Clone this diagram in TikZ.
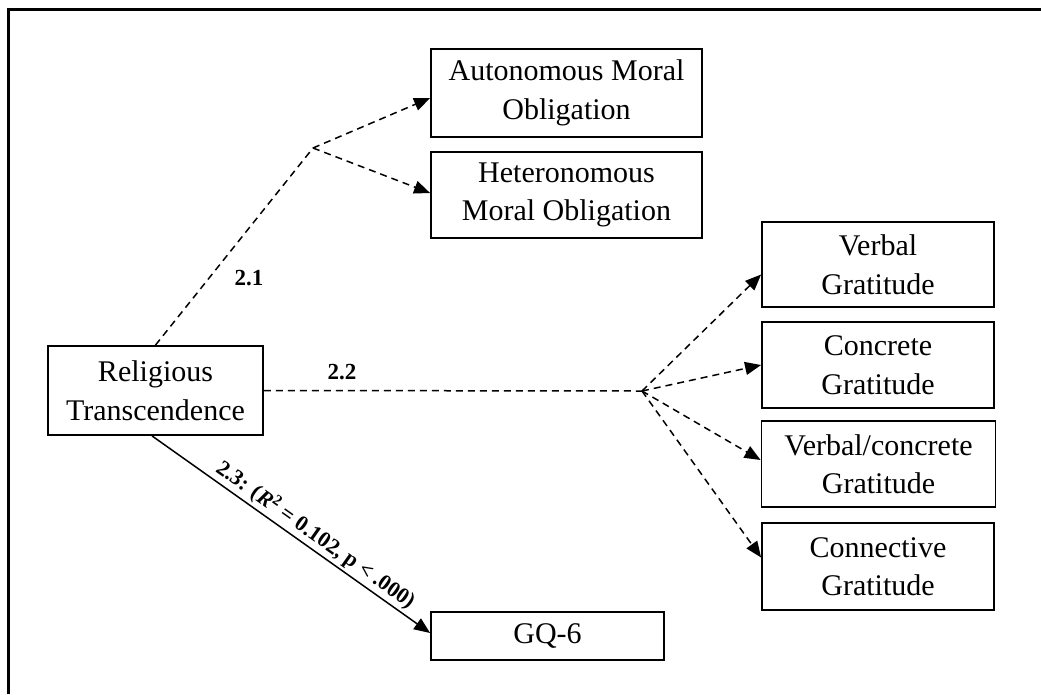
\documentclass[tikz,border=0pt]{standalone}
\usepackage{fontspec}
\setmainfont{Liberation Serif}
\usetikzlibrary{arrows.meta,calc}
\begin{document}
\begin{tikzpicture}[x=1pt,y=-1pt,
  box/.style={draw,line width=1.8pt,align=center,inner sep=0pt,
    font=\fontsize{30}{38.5}\selectfont},
  lab/.style={font=\bfseries\fontsize{23}{26}\selectfont,inner sep=2pt},
  dpath/.style={line width=1.5pt,dash pattern=on 7pt off 5pt,
    -{Triangle[length=16pt,width=13pt]}},
  dline/.style={line width=1.5pt,dash pattern=on 7pt off 5pt},
  spath/.style={line width=1.5pt,-{Triangle[length=16pt,width=13pt]}}]
\useasboundingbox (0,0) rectangle (1041,694);
\fill[white] (0,0) rectangle (1041,694);
% frame (top and left edges visible)
\draw[line width=3pt] (8,694) -- (8,9) -- (1041,9);
% boxes
\node[box,minimum width=215pt,minimum height=89pt] (rt) at (155.5,390.5) {Religious\\Transcendence};
\node[box,minimum width=271pt,minimum height=88pt] (auto) at (566.5,93) {Autonomous Moral\\Obligation};
\node[box,minimum width=271pt,minimum height=86pt] (het) at (566.5,195) {Heteronomous\\Moral Obligation};
\node[box,minimum width=233pt,minimum height=48pt] (gq) at (547.5,636) {GQ-6};
\node[box,minimum width=232pt,minimum height=85pt] (verb) at (878,264.5) {Verbal\\Gratitude};
\node[box,minimum width=232pt,minimum height=86pt] (conc) at (878,365) {Concrete\\Gratitude};
\node[box,minimum width=234pt,minimum height=86pt] (vc) at (878.5,464) {Verbal/concrete\\Gratitude};
\node[box,minimum width=232pt,minimum height=87pt] (conn) at (878,566.5) {Connective\\Gratitude};
% branch points
\coordinate (b1) at (313,148);
\coordinate (b2) at (642,391);
% path 2.1
\draw[dline] (rt.north) -- (b1);
\draw[dpath] (b1) -- ([yshift=-5pt]auto.west);
\draw[dpath] (b1) -- ([yshift=2pt]het.west);
% path 2.2
\draw[dline] (rt.east) -- (b2);
\draw[dpath] (b2) -- ([yshift=-10pt]verb.west);
\draw[dpath] (b2) -- (conc.west);
\draw[dpath] (b2) -- ([yshift=4pt]vc.west);
\draw[dpath] (b2) -- ([yshift=9pt]conn.west);
% path 2.3
\draw[spath] ([xshift=-3.5pt]rt.south) -- ([yshift=3pt]gq.west)
  node[lab,pos=0.56,sloped,above,font=\bfseries\fontsize{22}{24}\selectfont] (l23) {2.3: (\textit{R}\textsuperscript{2} = 0.102, p < .000)};
% labels
\node[lab] (l21) at (249,278) {2.1};
\node[lab] (l22) at (342,372) {2.2};
\end{tikzpicture}
\end{document}
